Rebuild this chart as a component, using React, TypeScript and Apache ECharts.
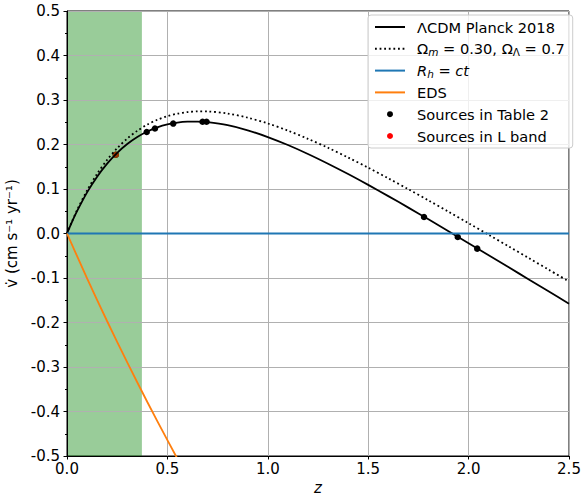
import React, { useEffect, useRef } from "react";
import * as echarts from "echarts";

// redshift grid for the model curves
const zCurve = [0, 0.025, 0.05, 0.1, 0.15, 0.2, 0.25, 0.3, 0.35, 0.4, 0.45, 0.5, 0.55, 0.6, 0.65, 0.7, 0.8, 0.9, 1.0, 1.1, 1.2, 1.3, 1.4, 1.5, 1.6, 1.7, 1.8, 1.9, 2.0, 2.1, 2.2, 2.3, 2.4, 2.5];
// ΛCDM Planck 2018
const vPlanck = [0, 0.0261, 0.0501, 0.0924, 0.1277, 0.1571, 0.1814, 0.2011, 0.2169, 0.2292, 0.2384, 0.245, 0.2492, 0.2513, 0.2516, 0.2502, 0.2433, 0.2318, 0.2167, 0.1988, 0.1787, 0.1568, 0.1336, 0.1092, 0.084, 0.0582, 0.0319, 0.0052, -0.0217, -0.0488, -0.076, -0.1032, -0.1305, -0.1577];
// Ωm = 0.30, ΩΛ = 0.7
const vFlat = [0, 0.0273, 0.0524, 0.0968, 0.1342, 0.1656, 0.1918, 0.2133, 0.2308, 0.2448, 0.2556, 0.2637, 0.2693, 0.2728, 0.2743, 0.2742, 0.2697, 0.2603, 0.2473, 0.2312, 0.2128, 0.1926, 0.1708, 0.1479, 0.124, 0.0995, 0.0744, 0.0489, 0.0231, -0.0029, -0.0291, -0.0553, -0.0816, -0.1079];
// R_h = ct
const zRh = [0, 2.5];
const vRh = [0, 0];
// EDS
const zEds = [0, 0.1, 0.2, 0.3, 0.4, 0.5, 0.6];
const vEds = [0, -0.1009, -0.1972, -0.2897, -0.3786, -0.4644, -0.5476];
// sources
const zTable2 = [0.243, 0.397, 0.438, 0.529, 0.675, 0.695, 1.778, 1.946, 2.043];
const vTable2 = [0.177, 0.228, 0.236, 0.247, 0.251, 0.251, 0.037, -0.008, -0.034];
const zLBand = [0.243];
const vLBand = [0.177];
// shaded redshift band
const bandZ = [0, 0.373];
// axis ticks
const xTicks = [0, 0.5, 1.0, 1.5, 2.0, 2.5];
const yTicks = [-0.5, -0.4, -0.3, -0.2, -0.1, 0, 0.1, 0.2, 0.3, 0.4, 0.5];

const FONT = "DejaVu Sans";

const zip = (xs: number[], ys: number[]) => xs.map((x, i) => [x, ys[i]]);

const legendLabels: Record<string, string> = {
  lcdm: "{g| }{t|ΛCDM Planck 2018}",
  flat: "{g| }{t|Ω}{si|m}{t| = 0.30, Ω}{s|Λ}{t| = 0.7}",
  rh: "{g| }{ti|R}{si|h}{t| = }{ti|ct}",
  eds: "{g| }{t|EDS}",
  t2: "{g| }{t|Sources in Table 2}",
  lb: "{g| }{t|Sources in L band}",
};

export default function App() {
  const ref = useRef<HTMLDivElement>(null);
  useEffect(() => {
    if (!ref.current) return;
    const chart = echarts.init(ref.current, null, { renderer: "svg" });
    const noDot = { itemStyle: { opacity: 0 } };
    const option: any = {
      animation: false,
      textStyle: { fontFamily: FONT },
      grid: {
        left: 67,
        right: 15,
        top: 11,
        bottom: 40,
        outerBoundsMode: "none",
        containLabel: false,
        show: true,
        borderColor: "#000",
        borderWidth: 1,
        backgroundColor: "transparent",
      },
      xAxis: {
        type: "value",
        min: xTicks[0],
        max: xTicks[xTicks.length - 1],
        interval: 0.5,
        z: 1.7,
        name: "z",
        nameLocation: "middle",
        nameGap: 21,
        nameTextStyle: { fontFamily: FONT, fontSize: 15, fontStyle: "italic", color: "#000" },
        axisLine: { onZero: false, lineStyle: { color: "#000", width: 1 } },
        axisTick: { length: 3.5, lineStyle: { color: "#000", width: 1 } },
        axisLabel: {
          margin: 5,
          fontFamily: FONT,
          fontSize: 15,
          color: "#000",
          formatter: (v: number) => v.toFixed(1),
        },
        splitLine: { show: true, lineStyle: { color: "#b0b0b0", width: 1 } },
      },
      yAxis: {
        type: "value",
        min: yTicks[0],
        max: yTicks[yTicks.length - 1],
        interval: 0.1,
        z: 1.7,
        name: "v\u0307 (cm s\u207B\u00B9 yr\u207B\u00B9)",
        nameLocation: "middle",
        nameRotate: 90,
        nameGap: 40,
        nameTextStyle: { fontFamily: FONT, fontSize: 15, color: "#000" },
        axisLine: { onZero: false, lineStyle: { color: "#000", width: 1 } },
        axisTick: { length: 3.5, lineStyle: { color: "#000", width: 1 } },
        minorTick: { show: true, splitNumber: 2, length: 2, lineStyle: { color: "#000", width: 1 } },
        axisLabel: {
          margin: 7,
          fontFamily: FONT,
          fontSize: 15,
          color: "#000",
          formatter: (v: number) => (Math.abs(v) < 1e-9 ? "0.0" : v.toFixed(1)),
        },
        splitLine: { show: true, lineStyle: { color: "#b0b0b0", width: 1 } },
      },
      legend: {
        orient: "vertical",
        left: 368,
        top: 15,
        padding: [3, 8, 3, 6],
        itemWidth: 30,
        itemHeight: 6,
        itemGap: 3.8,
        backgroundColor: "rgba(255,255,255,0.8)",
        borderColor: "#cccccc",
        borderWidth: 1,
        borderRadius: 3,
        data: [
          { name: "lcdm", ...noDot },
          { name: "flat", ...noDot },
          { name: "rh", ...noDot },
          { name: "eds", ...noDot },
          { name: "t2", icon: "circle" },
          { name: "lb", icon: "circle" },
        ],
        formatter: (name: string) => legendLabels[name] || name,
        textStyle: {
          fontFamily: FONT,
          fontSize: 14.6,
          color: "#000",
          lineHeight: 18,
          rich: {
            g: { width: 7, fontSize: 14.6, lineHeight: 18 },
            t: { fontFamily: FONT, fontSize: 14.6, lineHeight: 18, color: "#000" },
            ti: { fontFamily: FONT, fontSize: 14.6, lineHeight: 18, fontStyle: "italic", color: "#000" },
            si: { fontFamily: FONT, fontSize: 10.5, lineHeight: 10, fontStyle: "italic", verticalAlign: "bottom", color: "#000" },
            s: { fontFamily: FONT, fontSize: 10.5, lineHeight: 10, verticalAlign: "bottom", color: "#000" },
          },
        },
      },
      series: [
        {
          type: "scatter",
          name: "t2",
          z: 1,
          symbol: "circle",
          symbolSize: 6.5,
          itemStyle: { color: "#000", opacity: 1 },
          data: zip(zTable2, vTable2),
        },
        {
          type: "scatter",
          name: "lb",
          z: 1.1,
          symbol: "circle",
          symbolSize: 6.5,
          itemStyle: { color: "#ff0000", opacity: 1 },
          data: zip(zLBand, vLBand),
        },
        {
          type: "custom",
          name: "band",
          z: 1.5,
          silent: true,
          data: [[bandZ[0], bandZ[1], 0]],
          encode: { x: [0, 1], y: 2 },
          renderItem: (params: any, api: any) => {
            const a = api.coord([api.value(0), 0]);
            const b = api.coord([api.value(1), 0]);
            const cs = params.coordSys;
            return {
              type: "rect",
              shape: { x: a[0], y: cs.y, width: b[0] - a[0], height: cs.height },
              style: { fill: "rgba(0,128,0,0.4)" },
            };
          },
        },
        {
          type: "line",
          name: "lcdm",
          z: 2,
          symbol: "none",
          smooth: 0.3,
          lineStyle: { color: "#000", width: 1.8 },
          itemStyle: { color: "#000" },
          data: zip(zCurve, vPlanck),
        },
        {
          type: "line",
          name: "flat",
          z: 2,
          symbol: "none",
          smooth: 0.3,
          lineStyle: { color: "#000", width: 1.8, type: [1.8, 2.8] },
          itemStyle: { color: "#000" },
          data: zip(zCurve, vFlat),
        },
        {
          type: "line",
          name: "rh",
          z: 2,
          symbol: "none",
          lineStyle: { color: "#1f77b4", width: 1.8 },
          itemStyle: { color: "#1f77b4" },
          data: zip(zRh, vRh),
        },
        {
          type: "line",
          name: "eds",
          z: 2,
          symbol: "none",
          smooth: 0.3,
          lineStyle: { color: "#ff7f0e", width: 1.8 },
          itemStyle: { color: "#ff7f0e" },
          data: zip(zEds, vEds),
        },
      ],
    };
    chart.setOption(option);
    return () => chart.dispose();
  }, []);
  return (
    <div
      ref={ref}
      style={{ position: "fixed", left: 0, top: 0, width: 584, height: 496, background: "#fff" }}
    />
  );
}
